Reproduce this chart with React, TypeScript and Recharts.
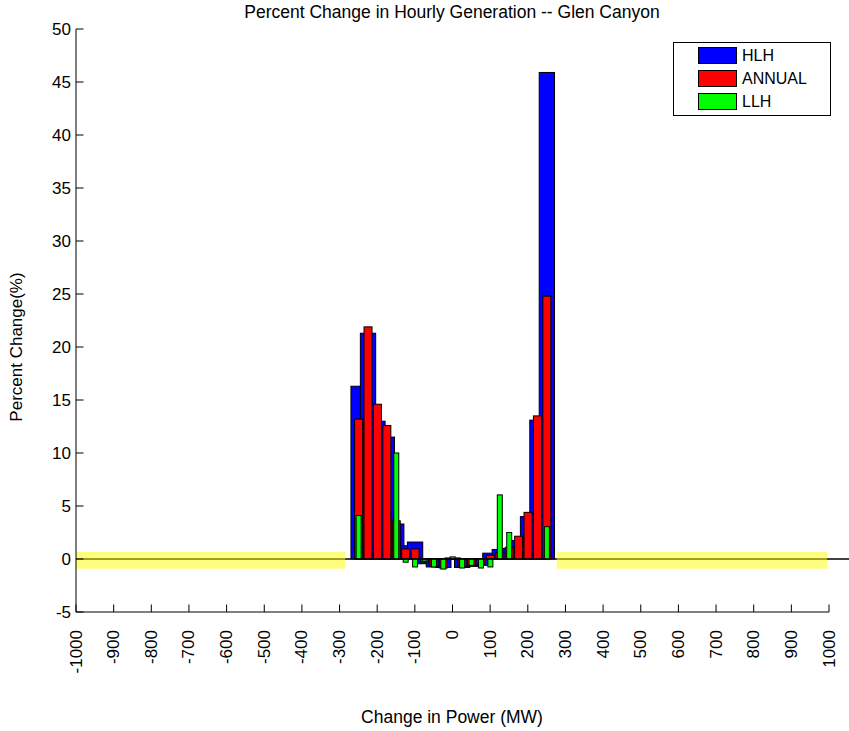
import React from 'react';
import { ComposedChart, Bar, XAxis, YAxis, ReferenceLine, ReferenceArea, Legend } from 'recharts';

const FONT = '"Liberation Sans", Arial, Helvetica, sans-serif';

// Change in power bins (MW)
const powerBins = [-250, -225, -200, -175, -150, -125, -100, -75, -50, -25, 0, 25, 50, 75, 100, 125, 150, 175, 200, 225, 250];
// Percent change per bin
const hlhValues = [16.3, 21.3, 13.0, 11.5, 3.3, 1.25, 1.6, -0.45, -0.75, -0.8, 0.1, -0.8, -0.7, -0.6, 0.55, 0.9, 1.0, 1.75, 4.0, 13.1, 45.9];
const annualValues = [13.2, 21.9, 14.6, 12.6, 3.6, 0.95, 0.95, -0.3, -0.7, -0.85, 0.05, -0.75, -0.6, -0.5, 0.35, 0.6, 1.1, 2.15, 4.4, 13.5, 24.8];
const llhValues = [4.1, 0, 0, 0, 10.0, -0.3, -0.75, -0.2, -0.75, -0.95, 0.2, -0.85, -0.6, -0.85, -0.75, 6.05, 2.5, 0, 0, 0, 3.05];

const xTicks = [-1000, -900, -800, -700, -600, -500, -400, -300, -200, -100, 0, 100, 200, 300, 400, 500, 600, 700, 800, 900, 1000];
const yTicks = [-5, 0, 5, 10, 15, 20, 25, 30, 35, 40, 45, 50];

const seriesNames = ['HLH', 'ANNUAL', 'LLH'];
const seriesColors = ['#0000ff', '#ff0000', '#00ff00'];

// Highlighted ranges along the zero line (MW, percent)
const bandRanges = [
  { x1: -1000, x2: -285 },
  { x1: 277, x2: 995 },
];
const bandY = { y1: -0.92, y2: 0.66 };

const titleText = 'Percent Change in Hourly Generation -- Glen Canyon';
const xLabelText = 'Change in Power (MW)';
const yLabelText = 'Percent Change(%)';

const data = powerBins.map((x, i) => ({
  x,
  hlh: hlhValues[i],
  annual: annualValues[i],
  llh: llhValues[i],
}));

const TICK_LEN = 7.5;
const Y_TICK_GAP = 5;
const X_TICK_GAP = 18;
const FS = 17;
const LABEL_FS = 17.5;
const LEGEND_FS = 16;

function YTick(props: any) {
  const { x, y, payload } = props;
  const axisX = x + Y_TICK_GAP;
  return (
    <g>
      <line x1={axisX} x2={axisX + TICK_LEN} y1={y} y2={y} stroke="#000" strokeWidth={1} />
      <text x={x} y={y} textAnchor="end" dominantBaseline="central" fontFamily={FONT} fontSize={FS} fill="#000">
        {payload.value}
      </text>
    </g>
  );
}

function XTick(props: any) {
  const { x, y, payload } = props;
  const axisY = y - X_TICK_GAP;
  return (
    <g>
      <line x1={x} x2={x} y1={axisY} y2={axisY - TICK_LEN} stroke="#000" strokeWidth={1} />
      <text
        x={x}
        y={y}
        transform={`rotate(-90 ${x} ${y})`}
        textAnchor="end"
        dominantBaseline="central"
        fontFamily={FONT}
        fontSize={FS}
        fill="#000"
      >
        {payload.value}
      </text>
    </g>
  );
}

function barShape(widthScale: number, fill: string) {
  return (props: any) => {
    const { x, y, width, height } = props;
    if (x == null || y == null || width == null || height == null) return <g />;
    const h = Math.abs(height);
    if (h < 0.05) return <g />;
    const top = Math.min(y, y + height);
    const cx = x + width / 2;
    const w = width * widthScale;
    return <rect x={cx - w / 2} y={top} width={w} height={h} fill={fill} stroke="#000" strokeWidth={1} />;
  };
}

function LegendBox(props: any) {
  const payload = [...(props.payload || [])].sort(
    (a: any, b: any) => seriesNames.indexOf(a.value) - seriesNames.indexOf(b.value)
  );
  return (
    <div
      style={{
        width: 156,
        height: 72,
        border: '1px solid #000',
        background: '#fff',
        position: 'relative',
        fontFamily: FONT,
        fontSize: LEGEND_FS,
        color: '#000',
      }}
    >
      {payload.map((p: any, i: number) => (
        <div
          key={p.value}
          style={{ position: 'absolute', left: 24, top: 4 + i * 23, height: 17, display: 'flex', alignItems: 'center' }}
        >
          <span
            style={{
              display: 'inline-block',
              width: 39,
              height: 17,
              background: p.color,
              border: '1px solid #000',
              boxSizing: 'border-box',
            }}
          />
          <span style={{ marginLeft: 5, lineHeight: '17px' }}>{p.value}</span>
        </div>
      ))}
    </div>
  );
}

export default function App() {
  return (
    <div style={{ position: 'absolute', left: 0, top: 0, width: 849, height: 731, background: '#fff' }}>
      <ComposedChart width={849} height={731} data={data} margin={{ top: 29, right: 20, bottom: 0, left: 0 }}>
        <XAxis
          xAxisId="main"
          dataKey="x"
          type="number"
          domain={[-1000, 1000]}
          ticks={xTicks}
          interval={0}
          height={119}
          tickSize={0}
          tickMargin={X_TICK_GAP}
          tickLine={false}
          axisLine={{ stroke: '#000', strokeWidth: 1 }}
          tick={(p: any) => <XTick {...p} />}
        />
        <XAxis xAxisId="h" dataKey="x" type="number" domain={[-1000, 1000]} orientation="top" height={0} hide />
        <XAxis xAxisId="a" dataKey="x" type="number" domain={[-1000, 1000]} orientation="top" height={0} hide />
        <XAxis xAxisId="l" dataKey="x" type="number" domain={[-1000, 1000]} orientation="top" height={0} hide />
        <YAxis
          type="number"
          domain={[-5, 50]}
          ticks={yTicks}
          interval={0}
          width={76}
          tickSize={0}
          tickMargin={Y_TICK_GAP}
          tickLine={false}
          axisLine={{ stroke: '#000', strokeWidth: 1 }}
          tick={(p: any) => <YTick {...p} />}
        />
        <Bar
          xAxisId="h"
          dataKey="hlh"
          name={seriesNames[0]}
          fill={seriesColors[0]}
          shape={barShape(1.915, seriesColors[0])}
          isAnimationActive={false}
        />
        <Bar
          xAxisId="a"
          dataKey="annual"
          name={seriesNames[1]}
          fill={seriesColors[1]}
          shape={barShape(1.0, seriesColors[1])}
          isAnimationActive={false}
        />
        <Bar
          xAxisId="l"
          dataKey="llh"
          name={seriesNames[2]}
          fill={seriesColors[2]}
          shape={barShape(0.625, seriesColors[2])}
          isAnimationActive={false}
        />
        <ReferenceLine
          xAxisId="main"
          segment={[{ x: -1000, y: 0 }, { x: 1060, y: 0 }]}
          ifOverflow="visible"
          stroke="#000"
          strokeWidth={1.5}
          zIndex={350}
        />
        {bandRanges.map((b, i) => (
          <ReferenceArea
            key={i}
            xAxisId="main"
            x1={b.x1}
            x2={b.x2}
            y1={bandY.y1}
            y2={bandY.y2}
            fill="#ffff00"
            fillOpacity={0.5}
            stroke="none"
            ifOverflow="visible"
            zIndex={360}
          />
        ))}
        <Legend
          layout="vertical"
          align="center"
          verticalAlign="middle"
          content={(p: any) => <LegendBox {...p} />}
          wrapperStyle={{ position: 'absolute', left: 673, top: 42, width: 158, height: 74, margin: 0, padding: 0 }}
        />
      </ComposedChart>
      <svg
        width={849}
        height={731}
        style={{ position: 'absolute', left: 0, top: 0, pointerEvents: 'none' }}
      >
        <text x={452} y={18} textAnchor="middle" fontFamily={FONT} fontSize={LABEL_FS} fill="#000">
          {titleText}
        </text>
        <text x={452} y={723} textAnchor="middle" fontFamily={FONT} fontSize={LABEL_FS} fill="#000">
          {xLabelText}
        </text>
        <text
          x={16}
          y={347}
          transform="rotate(-90 16 347)"
          textAnchor="middle"
          dominantBaseline="central"
          fontFamily={FONT}
          fontSize={FS}
          fill="#000"
        >
          {yLabelText}
        </text>
      </svg>
    </div>
  );
}
